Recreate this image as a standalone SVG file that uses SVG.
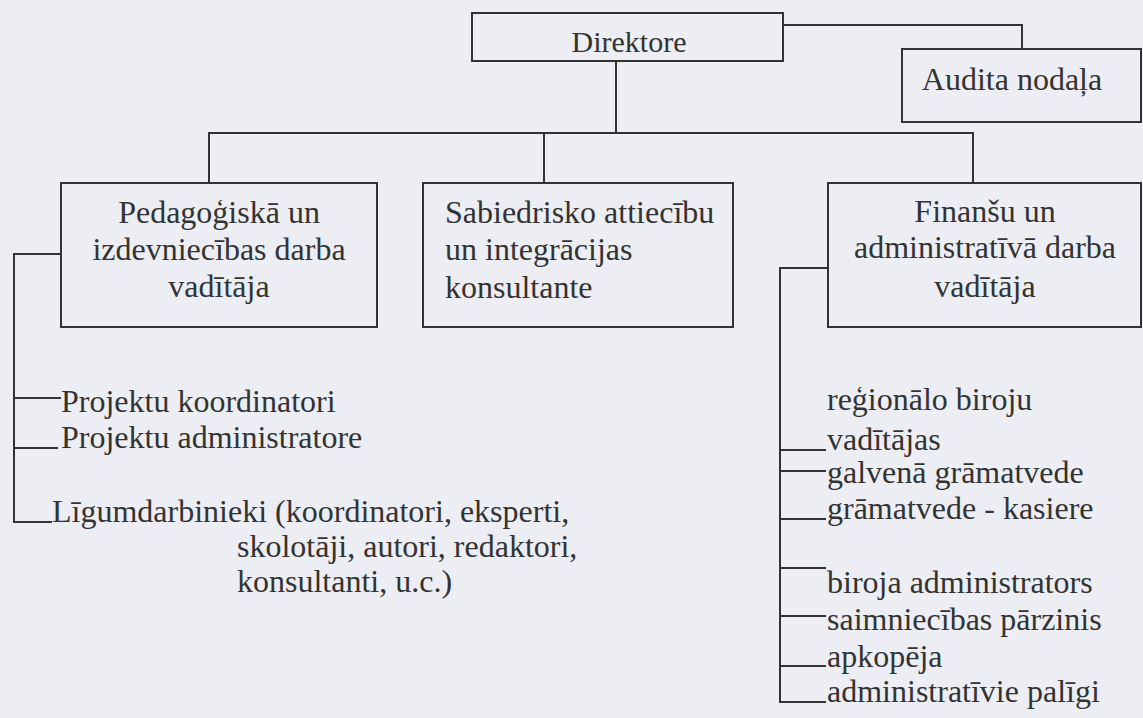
<svg xmlns="http://www.w3.org/2000/svg" width="1143" height="718" viewBox="0 0 1143 718">
<style>
  .bg { fill: #eceef3; }
  .box { fill: none; stroke: #333; stroke-width: 2; }
  .ln { fill: none; stroke: #333; stroke-width: 2; }
  text { font-family: "Liberation Serif", "Times New Roman", serif; font-size: 32px; fill: #333; }
  .c { text-anchor: middle; }
</style>
<rect class="bg" x="0" y="0" width="1143" height="718"/>
<g id="connectors">
  <polyline class="ln" points="783,25 1022,25 1022,49"/>
  <line class="ln" x1="616" y1="61" x2="616" y2="133"/>
  <line class="ln" x1="208" y1="133" x2="974" y2="133"/>
  <line class="ln" x1="209" y1="133" x2="209" y2="183"/>
  <line class="ln" x1="544" y1="133" x2="544" y2="183"/>
  <line class="ln" x1="973" y1="133" x2="973" y2="183"/>
  <polyline class="ln" points="61,254 14,254 14,522 52,522"/>
  <line class="ln" x1="14" y1="398" x2="61" y2="398"/>
  <line class="ln" x1="14" y1="448" x2="58" y2="448"/>
  <polyline class="ln" points="828,268 780,268 780,702 826,702"/>
  <line class="ln" x1="780" y1="450" x2="826" y2="450"/>
  <line class="ln" x1="780" y1="471" x2="826" y2="471"/>
  <line class="ln" x1="780" y1="519" x2="826" y2="519"/>
  <line class="ln" x1="780" y1="568" x2="826" y2="568"/>
  <line class="ln" x1="780" y1="616" x2="826" y2="616"/>
  <line class="ln" x1="780" y1="666" x2="826" y2="666"/>
</g>
<g id="direktore">
  <rect class="box" x="472" y="13" width="311" height="48"/>
  <text class="c" x="629" y="52" style="font-size:30px">Direktore</text>
</g>
<g id="audita">
  <rect class="box" x="902" y="49" width="239" height="73"/>
  <text class="c" x="1012" y="90">Audita nodaļa</text>
</g>
<g id="pedagogiska">
  <rect class="box" x="61" y="183" width="316" height="144"/>
  <text class="c" x="219" y="223">Pedagoģiskā un</text>
  <text class="c" x="219" y="260">izdevniecības darba</text>
  <text class="c" x="219" y="297">vadītāja</text>
</g>
<g id="sabiedrisko">
  <rect class="box" x="423" y="183" width="310" height="144"/>
  <text x="445" y="223">Sabiedrisko attiecību</text>
  <text x="445" y="260">un integrācijas</text>
  <text x="445" y="298">konsultante</text>
</g>
<g id="finansu">
  <rect class="box" x="828" y="183" width="313" height="144"/>
  <text class="c" x="985" y="222">Finanšu un</text>
  <text class="c" x="985" y="258">administratīvā darba</text>
  <text class="c" x="985" y="297">vadītāja</text>
</g>
<g id="left-list">
  <text x="61" y="412">Projektu koordinatori</text>
  <text x="61" y="448">Projektu administratore</text>
  <text x="52" y="522">Līgumdarbinieki (koordinatori, eksperti,</text>
  <text x="237" y="557">skolotāji, autori, redaktori,</text>
  <text x="237" y="592">konsultanti, u.c.)</text>
</g>
<g id="right-list">
  <text x="827" y="410">reģionālo biroju</text>
  <text x="827" y="450">vadītājas</text>
  <text x="827" y="483">galvenā grāmatvede</text>
  <text x="827" y="519">grāmatvede - kasiere</text>
  <text x="827" y="593">biroja administrators</text>
  <text x="827" y="630">saimniecības pārzinis</text>
  <text x="827" y="667">apkopēja</text>
  <text x="827" y="702">administratīvie palīgi</text>
</g>
</svg>
